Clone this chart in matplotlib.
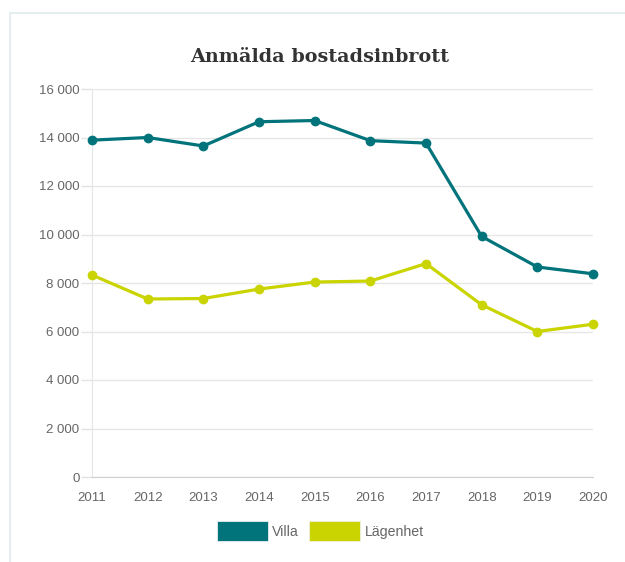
import matplotlib
matplotlib.use("Agg")
import matplotlib.pyplot as plt
from matplotlib.patches import Rectangle, Patch
from matplotlib.ticker import FuncFormatter

years = [2011, 2012, 2013, 2014, 2015, 2016, 2017, 2018, 2019, 2020]
villa = [13890, 14000, 13650, 14650, 14700, 13870, 13770, 9920, 8660, 8380]
lagenhet = [8330, 7340, 7360, 7750, 8040, 8080, 8800, 7100, 6000, 6300]
yticks = [0, 2000, 4000, 6000, 8000, 10000, 12000, 14000, 16000]

W, H = 625, 562
fig = plt.figure(figsize=(W / 100, H / 100), dpi=100)
fig.patches.append(Rectangle((10 / W, -0.1), 1.2, (H - 13) / H + 0.1, transform=fig.transFigure,
                             fill=False, edgecolor="#e3eded", linewidth=1.3))

ax = fig.add_axes([92 / W, (H - 477) / H, (593 - 92) / W, (477 - 89) / H])
c_villa = "#00737b"
c_lag = "#c9d400"
ax.plot(years, villa, color=c_villa, lw=2.3, marker="o", ms=6, zorder=3, clip_on=False)
ax.plot(years, lagenhet, color=c_lag, lw=2.3, marker="o", ms=6, zorder=3, clip_on=False)

ax.set_xlim(2011, 2020)
ax.set_ylim(0, 16000)
ax.set_yticks(yticks)
ax.set_xticks(years)
ax.yaxis.set_major_formatter(FuncFormatter(lambda v, p: f"{int(v):,}".replace(",", " ")))
ax.grid(axis="y", color="#e6e6e6", lw=1)
ax.grid(axis="x", visible=False)
for s in ["top", "right"]:
    ax.spines[s].set_visible(False)
ax.spines["left"].set_color("#e6e6e6")
ax.spines["bottom"].set_color("#d0d0d0")
ax.tick_params(axis="both", colors="#e3e3e3", labelcolor="#666666", labelsize=9.5, width=1)
ax.tick_params(axis="y", length=8, pad=1)
ax.tick_params(axis="x", length=0, pad=11)
for lbl in ax.get_xticklabels() + ax.get_yticklabels():
    lbl.set_fontfamily("Liberation Sans")
ax.set_axisbelow(True)

fig.text(320 / W, (H - 57) / H, "Anmälda bostadsinbrott", ha="center", va="center",
         fontsize=13.8, fontweight="bold", family="DejaVu Serif", color="#333333")

handles = [Patch(facecolor=c_villa, edgecolor="#e8f0f0", lw=0.6, label="Villa"),
           Patch(facecolor=c_lag, edgecolor="#f0f0e0", lw=0.6, label="Lägenhet")]
leg = fig.legend(handles=handles, loc="center", bbox_to_anchor=(320 / W, (H - 531) / H), ncol=2,
                 frameon=False, handlelength=3.6, handleheight=1.9, handletextpad=0.3,
                 columnspacing=0.75, prop={"family": "Liberation Sans", "size": 10.2})
for t in leg.get_texts():
    t.set_color("#666666")

fig.savefig("out.png", dpi=100)
